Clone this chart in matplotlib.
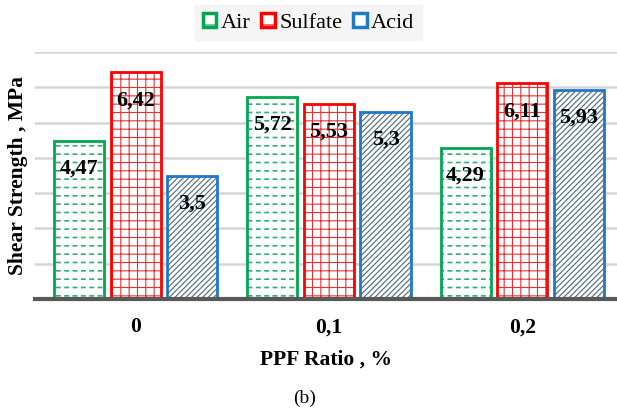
import matplotlib.pyplot as plt
import matplotlib.patches as mpatches
import numpy as np

categories = ['0', '0,1', '0,2']
series = ['Air', 'Sulfate', 'Acid']
air = [4.47, 5.72, 4.29]
sulfate = [6.42, 5.53, 6.11]
acid = [3.5, 5.3, 5.93]

edge_colors = ['#00a650', '#ff0000', '#1f78c8']
hatch_colors = ['#2fb070', '#e83030', '#4a6a7a']
hatches = ['--', '++', '//////']

serif = 'Liberation Serif'
plt.rcParams['font.family'] = [serif, 'DejaVu Serif']
plt.rcParams['hatch.linewidth'] = 0.8

fig = plt.figure(figsize=(6.17, 4.12), dpi=100)
ax = fig.add_axes([0.057, 0.274, 0.943, 0.6])

x = np.arange(len(categories))
width = 0.26
offset = 0.293

handles = []
for i, (name, vals) in enumerate(zip(series, [air, sulfate, acid])):
    pos = x + (i - 1) * offset
    # hatch layer, then the outline on top
    base = ax.bar(pos, vals, width, color='white', edgecolor=hatch_colors[i],
                  hatch=hatches[i], linewidth=0, zorder=2)
    if name == 'Air':
        for p in base:
            if hasattr(p, 'set_hatch_linewidth'):
                p.set_hatch_linewidth(1.2)
        # break the horizontal lines into dashes
        cut = ax.bar(pos, vals, width, fill=False, edgecolor='white',
                     hatch='||', linewidth=0, zorder=2.5)
        for p in cut:
            if hasattr(p, 'set_hatch_linewidth'):
                p.set_hatch_linewidth(2.5)
    ax.bar(pos, vals, width, fill=False, edgecolor=edge_colors[i],
           linewidth=2, zorder=3)
    for xp, v in zip(pos, vals):
        ax.annotate(f'{v:g}'.replace('.', ','), (xp, v), xytext=(0, -20),
                    textcoords='offset points', ha='center', va='center',
                    fontsize=16, fontweight='bold', zorder=4)
    handles.append(mpatches.Patch(facecolor='white', edgecolor=edge_colors[i],
                                  hatch=hatches[i][0], linewidth=2.5, label=name))

ax.set_xlim(-0.52, 2.49)
ax.set_ylim(0, 7)
ax.set_yticks(np.arange(0, 8, 1))
ax.set_yticklabels([])
ax.tick_params(axis='y', length=0)
ax.tick_params(axis='x', length=0, pad=13)
ax.set_xticks(x)
ax.set_xticklabels(categories, fontsize=15.5, fontweight='bold')
ax.grid(axis='y', color='#d6d6d6', linewidth=1.8, zorder=0)
ax.set_axisbelow(True)
for s in ['top', 'right', 'left']:
    ax.spines[s].set_visible(False)
ax.spines['bottom'].set_color('#595959')
ax.spines['bottom'].set_linewidth(3)
ax.spines['bottom'].set_zorder(5)

ax.set_ylabel('Shear Strength , MPa', fontsize=15.5, fontweight='bold', labelpad=2)
ax.set_xlabel('PPF Ratio , %', fontsize=15.5, fontweight='bold', labelpad=9)

leg = fig.legend(handles=handles, loc='upper center', bbox_to_anchor=(0.5, 1.015),
                 ncol=3, frameon=True,
                 prop={'family': serif, 'weight': 'normal', 'size': 16},
                 handlelength=0.6, handleheight=0.6, handletextpad=0.2,
                 columnspacing=0.5, borderpad=0.35, fancybox=False)
leg.get_frame().set_facecolor('#f3f3f3')
leg.get_frame().set_edgecolor('#f3f3f3')

fig.text(0.494, 0.034, '(b)', ha='center', va='center', fontsize=14,
         family=serif)

fig.savefig('out.png', dpi=100)
